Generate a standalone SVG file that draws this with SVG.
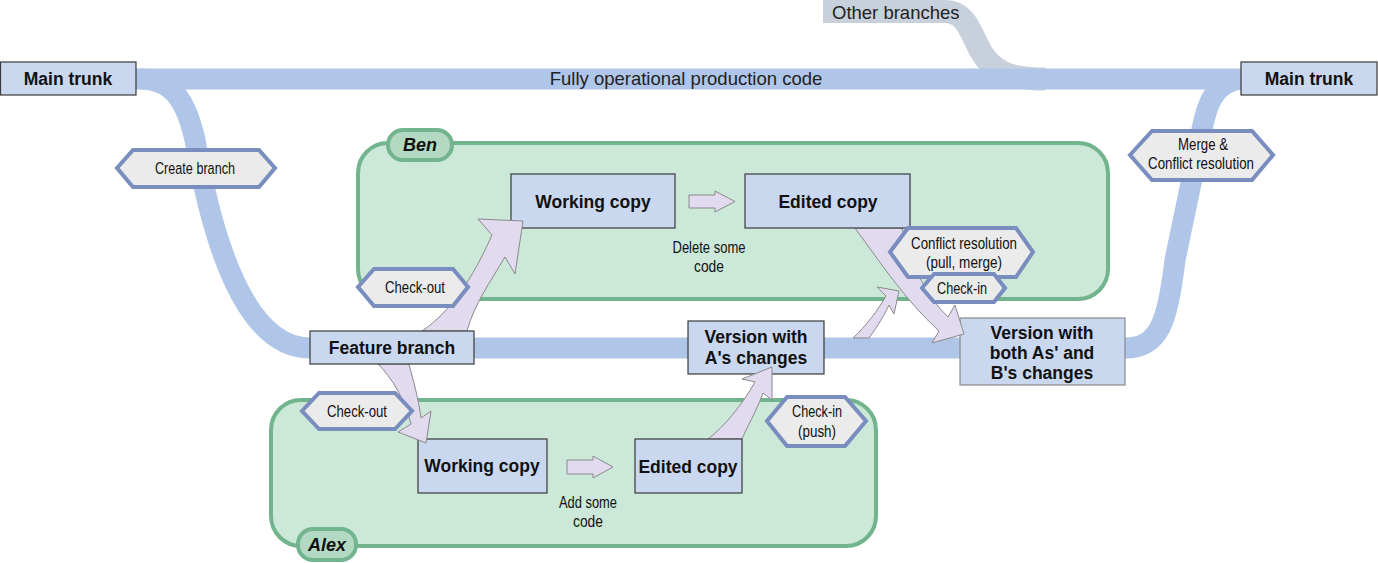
<svg xmlns="http://www.w3.org/2000/svg" width="1378" height="563" viewBox="0 0 1378 563">
<style>
.band{fill:none;stroke:#b0c6e8;stroke-width:21}
.box{fill:#c9d7ef;stroke:#3a3a3a;stroke-width:1.2}
.cont{fill:#cce8d8;stroke:#72b48e;stroke-width:4}
.tab{fill:#b4d9c2;stroke:#72b48e;stroke-width:4}
.hex{fill:#ebebeb;stroke:#7a8dbf;stroke-width:4;stroke-linejoin:miter}
.arr{fill:#e2daef;stroke:#8a8a8a;stroke-width:1}
.b{font-family:"Liberation Sans",Arial,sans-serif;font-weight:bold;font-size:17.5px;fill:#111;text-anchor:middle}
.bi{font-family:"Liberation Sans",Arial,sans-serif;font-weight:bold;font-style:italic;font-size:18px;fill:#111;text-anchor:middle}
.r{font-family:"Liberation Sans",Arial,sans-serif;font-size:18.5px;fill:#222}
.c{font-family:"Liberation Sans",Arial,sans-serif;font-size:17px;fill:#111;text-anchor:middle}
</style>
<rect width="1378" height="563" fill="#ffffff"/>
<g id="branches">
<path d="M 823 11.5 H 945 C 965 11.5 970 30 980 50 C 992 72 1010 79 1045 79" fill="none" stroke="#c8d0dc" stroke-width="23"/>
<path class="band" d="M 130 79 H 1250"/>
<path class="band" d="M 140 79 C 172 79 186 100 195 140 C 212 240 245 348 310 348 H 1125 C 1160 348 1168 320 1175 260 L 1200 140 C 1205 110 1212 79 1245 79"/>
<text class="r" x="686" y="85" text-anchor="middle">Fully operational production code</text>
<text class="r" x="832" y="19">Other branches</text>
</g>
<g id="ben">
<rect class="cont" x="358" y="143" width="750" height="156" rx="30"/>
<rect class="tab" x="388" y="130" width="64" height="30" rx="15"/>
<text class="bi" x="420" y="151">Ben</text>
</g>
<g id="alex">
<rect class="cont" x="271" y="400" width="605" height="146" rx="30"/>
<rect class="tab" x="298" y="529" width="58" height="31" rx="15"/>
<text class="bi" x="327" y="551">Alex</text>
</g>
<g id="main-trunk-left">
<rect class="box" x="0.5" y="62" width="135.5" height="33"/>
<text class="b" x="68" y="85">Main trunk</text>
</g>
<g id="main-trunk-right">
<rect class="box" x="1241" y="62" width="136" height="33"/>
<text class="b" x="1309" y="85">Main trunk</text>
</g>
<g id="ben-working-copy">
<rect class="box" x="511" y="174" width="164" height="54"/>
<text class="b" x="593" y="208">Working copy</text>
</g>
<g id="alex-working-copy">
<rect class="box" x="418" y="439" width="129" height="54"/>
<text class="b" x="482" y="472">Working copy</text>
</g>
<g id="version-a">
<rect class="box" x="688" y="321" width="136" height="53"/>
<text class="b" x="756" y="343">Version with</text>
<text class="b" x="756" y="364">A's changes</text>
</g>
<g id="version-both">
<rect class="box" x="960" y="318" width="165" height="67" style="stroke:#8a8a8a"/>
<text class="b" x="1042" y="339">Version with</text>
<text class="b" x="1042" y="359">both As' and</text>
<text class="b" x="1042" y="379">B's changes</text>
</g>
<g id="connectors">
<path class="arr" d="M 689 195 H 715 V 191 L 735 201.5 L 715 212 V 208 H 689 Z"/>
<path class="arr" d="M 567 460 H 593 V 456 L 613 467 L 593 478 V 474 H 567 Z"/>
<path class="arr" d="M 422 331 C 450 312 472 280 492 235 L 478 219 L 523 221 L 515 274 L 505 257 C 490 282 474 305 467 331 Z"/>
<path class="arr" d="M 378 364 C 392 378 404 398 411 424 L 398 432 L 426 443 L 431 411 L 421 418 C 418 396 413 380 409 364 Z"/>
<path class="arr" d="M 708 439 C 724 427 742 405 755 382 L 742 379 L 772 367 L 772 400 L 763 393 C 756 412 747 427 742 439 Z"/>
<path class="arr" d="M 853 338 C 866 326 878 310 886 296 L 877 287 L 899 291 L 894 314 L 889 305 C 882 320 874 331 869 338 Z"/>
<path class="arr" d="M 855 228 C 880 262 905 300 939 331 L 932 343 L 964 334 L 955 305 L 948 317 C 925 295 910 262 902 228 Z"/>
</g>
<g id="feature-branch">
<rect class="box" x="310" y="331" width="164" height="33"/>
<text class="b" x="392" y="354">Feature branch</text>
</g>
<g id="ben-edited-copy">
<rect class="box" x="745" y="174" width="165" height="54"/>
<text class="b" x="828" y="208">Edited copy</text>
</g>
<g id="alex-edited-copy">
<rect class="box" x="635" y="439" width="107" height="54"/>
<text class="b" x="688" y="473">Edited copy</text>
</g>
<g id="create-branch">
<polygon class="hex" points="117,168 133,150 259,150 275,168 259,187 133,187"/>
<text class="c" x="195" y="174" textLength="80" lengthAdjust="spacingAndGlyphs">Create branch</text>
</g>
<g id="ben-check-out">
<polygon class="hex" points="358,287 374,269 453,269 468,287 453,306 374,306"/>
<text class="c" x="415" y="293" textLength="60" lengthAdjust="spacingAndGlyphs">Check-out</text>
</g>
<g id="alex-check-out">
<polygon class="hex" points="302,411 319,393 395,393 412,411 395,429 319,429"/>
<text class="c" x="357" y="417" textLength="60" lengthAdjust="spacingAndGlyphs">Check-out</text>
</g>
<g id="conflict-resolution">
<polygon class="hex" points="890,252 908,228 1016,228 1033,252 1016,277 908,277"/>
<text class="c" x="964" y="249" textLength="106" lengthAdjust="spacingAndGlyphs">Conflict resolution</text>
<text class="c" x="964" y="268" textLength="76" lengthAdjust="spacingAndGlyphs">(pull, merge)</text>
</g>
<g id="ben-check-in">
<polygon class="hex" points="922,288 934,274 994,274 1005,288 994,302 934,302"/>
<text class="c" x="962" y="294" textLength="50" lengthAdjust="spacingAndGlyphs">Check-in</text>
</g>
<g id="alex-check-in">
<polygon class="hex" points="767,421 787,397 845,397 866,421 845,446 787,446"/>
<text class="c" x="817" y="417" textLength="50" lengthAdjust="spacingAndGlyphs">Check-in</text>
<text class="c" x="817" y="437" textLength="38" lengthAdjust="spacingAndGlyphs">(push)</text>
</g>
<g id="merge">
<polygon class="hex" points="1130,155 1152,131 1252,131 1273,155 1252,180 1152,180"/>
<text class="c" x="1203" y="150" textLength="50" lengthAdjust="spacingAndGlyphs">Merge &amp;</text>
<text class="c" x="1201" y="169" textLength="106" lengthAdjust="spacingAndGlyphs">Conflict resolution</text>
</g>
<g id="labels">
<text class="c" x="709" y="253" textLength="73" lengthAdjust="spacingAndGlyphs">Delete some</text>
<text class="c" x="709" y="272" textLength="30" lengthAdjust="spacingAndGlyphs">code</text>
<text class="c" x="588" y="508" textLength="58" lengthAdjust="spacingAndGlyphs">Add some</text>
<text class="c" x="588" y="527" textLength="30" lengthAdjust="spacingAndGlyphs">code</text>
</g>
</svg>
